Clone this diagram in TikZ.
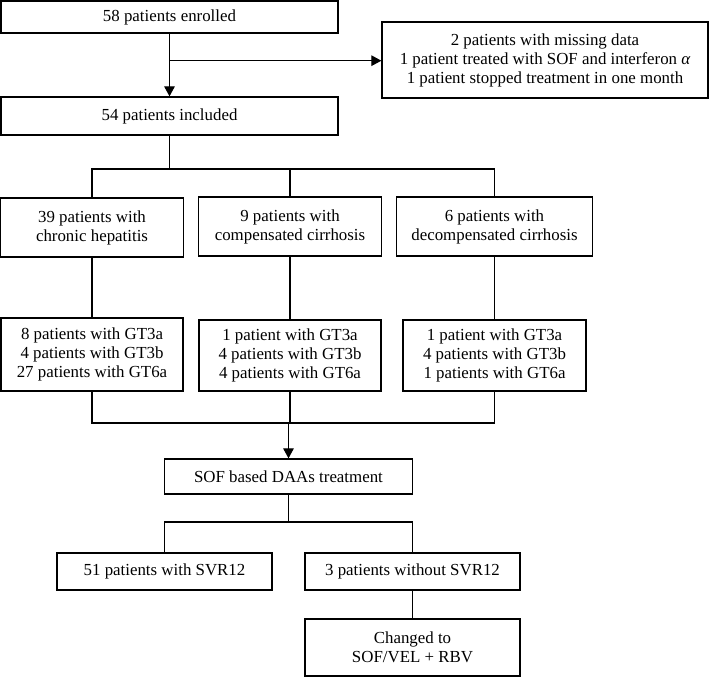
\documentclass[tikz,border=0pt]{standalone}
\usepackage{fontspec}
\setmainfont{Liberation Serif}
\usepackage{amsmath}
\usepackage{tikz}
\usetikzlibrary{arrows.meta}

\begin{document}
\begin{tikzpicture}[scale=0.2]
            \tikzstyle{every node}+=[inner sep=0pt]
            \tikzstyle{flowbox}=[draw, black, line width=0.7pt, align=center, font=\fontsize{9.6}{10.8}\selectfont]
            \tikzstyle{link}=[black, line width=0.7pt]
            \tikzstyle{linkarrow}=[link, -{Triangle[length=2mm, width=2.1mm]}]
            \useasboundingbox (0,0) rectangle (71,-67.7);
            % top
            \node [flowbox, minimum width=6.74cm, minimum height=0.64cm] (enrolled) at (16.95,-1.7) {58 patients enrolled};
            \node [flowbox, minimum width=6.52cm, minimum height=1.52cm] (excl) at (54.5,-6.0) {2 patients with missing data\\1 patient treated with SOF and interferon {\itshape α}\\1 patient stopped treatment in one month};
            \node [flowbox, minimum width=6.74cm, minimum height=0.76cm] (included) at (16.95,-11.6) {54 patients included};
            \coordinate (excljoin) at (16.95,-6.07);
            \draw [linkarrow] (enrolled.south) -- (included.north);
            \draw [linkarrow] (excljoin) -- (excljoin -| excl.west);
            % disease stage
            \node [flowbox, minimum width=3.66cm, minimum height=1.18cm] (chronic) at (9.2,-22.75) {39 patients with\\chronic hepatitis};
            \node [flowbox, minimum width=3.67cm, minimum height=1.18cm] (comp) at (29.0,-22.65) {9 patients with\\compensated cirrhosis};
            \node [flowbox, minimum width=3.91cm, minimum height=1.18cm] (decomp) at (49.45,-22.65) {6 patients with\\decompensated cirrhosis};
            \coordinate (stagejoin) at (16.95,-16.9);
            \draw [link] (included.south) -- (stagejoin);
            \draw [link] (chronic.north) -- (chronic.north |- stagejoin) -- (decomp.north |- stagejoin) -- (decomp.north);
            \draw [link] (comp.north) -- (comp.north |- stagejoin);
            % genotypes
            \node [flowbox, minimum width=3.64cm, minimum height=1.46cm] (gtA) at (9.2,-35.45) {8 patients with GT3a\\4 patients with GT3b\\27 patients with GT6a};
            \node [flowbox, minimum width=3.64cm, minimum height=1.42cm] (gtB) at (29.0,-35.55) {1 patient with GT3a\\4 patients with GT3b\\4 patients with GT6a};
            \node [flowbox, minimum width=3.66cm, minimum height=1.42cm] (gtC) at (49.45,-35.55) {1 patient with GT3a\\4 patients with GT3b\\1 patients with GT6a};
            \draw [link] (chronic.south) -- (gtA.north);
            \draw [link] (comp.south) -- (gtB.north);
            \draw [link] (decomp.south) -- (gtC.north);
            % treatment
            \node [flowbox, minimum width=4.96cm, minimum height=0.7cm] (sof) at (28.85,-47.65) {SOF based DAAs treatment};
            \coordinate (gtjoin) at (28.85,-42.3);
            \draw [link] (gtA.south) -- (gtA.south |- gtjoin) -- (gtC.south |- gtjoin) -- (gtC.south);
            \draw [link] (gtB.south) -- (gtB.south |- gtjoin);
            \draw [linkarrow] (gtjoin) -- (sof.north);
            % outcome
            \node [flowbox, minimum width=4.3cm, minimum height=0.74cm] (svr) at (16.45,-57.15) {51 patients with SVR12};
            \node [flowbox, minimum width=4.3cm, minimum height=0.74cm] (nosvr) at (41.25,-57.15) {3 patients without SVR12};
            \node [flowbox, minimum width=4.3cm, minimum height=1.14cm] (changed) at (41.25,-64.75) {Changed to\\SOF/VEL + RBV};
            \coordinate (outjoin) at (28.85,-52.2);
            \draw [link] (sof.south) -- (outjoin);
            \draw [link] (svr.north) -- (svr.north |- outjoin) -- (nosvr.north |- outjoin) -- (nosvr.north);
            \draw [link] (nosvr.south) -- (changed.north);
          \end{tikzpicture}
\end{document}
